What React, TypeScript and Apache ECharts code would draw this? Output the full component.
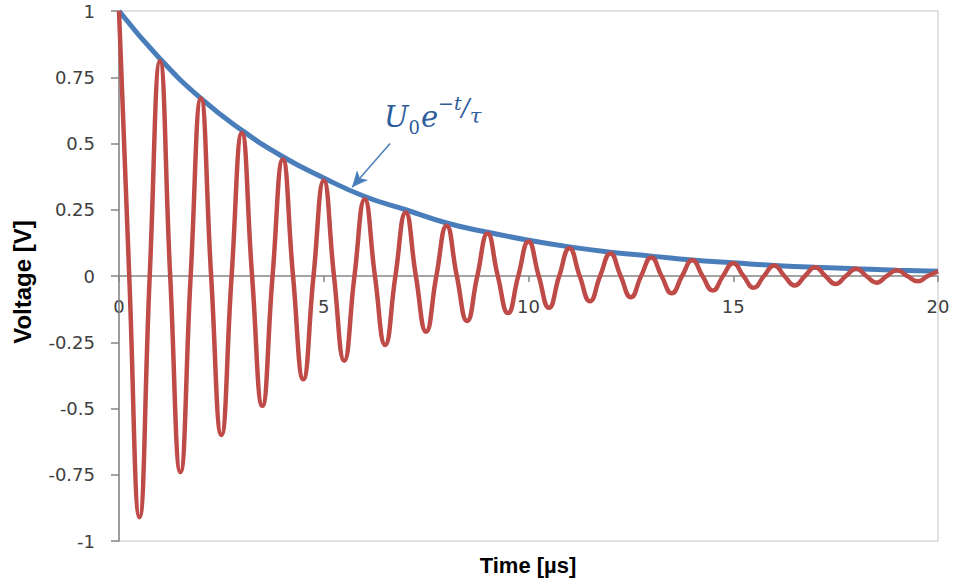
import React, { useEffect, useRef } from "react";
import * as echarts from "echarts";

// Time axis (µs) for the oscillating signal: peaks, troughs and zero crossings
const redTime = [
  0, 0.25, 0.5, 0.75, 1, 1.25, 1.5, 1.75, 2, 2.25, 2.5, 2.75, 3, 3.25, 3.5, 3.75,
  4, 4.25, 4.5, 4.75, 5, 5.25, 5.5, 5.75, 6, 6.25, 6.5, 6.75, 7, 7.25, 7.5, 7.75,
  8, 8.25, 8.5, 8.75, 9, 9.25, 9.5, 9.75, 10, 10.25, 10.5, 10.75, 11, 11.25, 11.5, 11.75,
  12, 12.25, 12.5, 12.75, 13, 13.25, 13.5, 13.75, 14, 14.25, 14.5, 14.75, 15, 15.25, 15.5, 15.75,
  16, 16.25, 16.5, 16.75, 17, 17.25, 17.5, 17.75, 18, 18.25, 18.5, 18.75, 19, 19.25, 19.5, 19.75, 20,
];
const redVoltage = [
  1, 0, -0.91, 0, 0.81, 0, -0.74, 0, 0.67, 0, -0.6, 0, 0.54, 0, -0.49, 0,
  0.44, 0, -0.39, 0, 0.36, 0, -0.32, 0, 0.29, 0, -0.26, 0, 0.24, 0, -0.21, 0,
  0.19, 0, -0.17, 0, 0.16, 0, -0.14, 0, 0.13, 0, -0.12, 0, 0.105, 0, -0.095, 0,
  0.085, 0, -0.08, 0, 0.07, 0, -0.065, 0, 0.06, 0, -0.055, 0, 0.048, 0, -0.044, 0,
  0.04, 0, -0.036, 0, 0.033, 0, -0.03, 0, 0.027, 0, -0.025, 0, 0.022, 0, -0.02, 0, 0.018,
];

// Envelope U0 e^{-t/τ}
const blueTime = [0, 1, 2, 3, 4, 5, 6, 7, 8, 9, 10, 11, 12, 13, 14, 15, 16, 17, 18, 19, 20];
const blueVoltage = [
  1, 0.82, 0.67, 0.55, 0.45, 0.37, 0.3, 0.25, 0.2, 0.165, 0.135, 0.11, 0.09, 0.075, 0.06,
  0.05, 0.04, 0.033, 0.027, 0.022, 0.018,
];

const xTicks = [0, 5, 10, 15, 20];
const yTicks = [-1, -0.75, -0.5, -0.25, 0, 0.25, 0.5, 0.75, 1];

// annotation arrow (data coordinates: start, tip)
const arrowStart = [6.62, 0.5];
const arrowEnd = [5.69, 0.335];

const BLUE = "#4A7EBB";
const RED = "#BE4B48";
const TEXT_BLUE = "#2E5D9C";
const LABEL_FONT = "18px 'DejaVu Sans', sans-serif";
const SERIF = "'DejaVu Serif', 'Liberation Serif', serif";

export default function App() {
  const ref = useRef<HTMLDivElement>(null);

  useEffect(() => {
    if (!ref.current) return;
    const chart = echarts.init(ref.current, null, { renderer: "svg" });
    const red = redTime.map((t, i) => [t, redVoltage[i]]);
    const blue = blueTime.map((t, i) => [t, blueVoltage[i]]);

    chart.setOption({
      animation: false,
      backgroundColor: "#ffffff",
      grid: {
        left: 119,
        right: 18,
        top: 11,
        bottom: 45,
        show: true,
        borderColor: "#d9d9d9",
        borderWidth: 1.5,
        containLabel: false,
      },
      xAxis: {
        type: "value",
        min: xTicks[0],
        max: xTicks[xTicks.length - 1],
        interval: 5,
        axisLine: { onZero: true, lineStyle: { color: "#868686", width: 1.5 } },
        axisTick: { show: true, length: 6, lineStyle: { color: "#868686", width: 1.5 } },
        axisLabel: { show: false },
        splitLine: { show: false },
      },
      yAxis: {
        type: "value",
        min: yTicks[0],
        max: yTicks[yTicks.length - 1],
        interval: 0.25,
        axisLine: { show: true, onZero: false, lineStyle: { color: "#868686", width: 1.5 } },
        axisTick: { show: true, length: 8, lineStyle: { color: "#868686", width: 1.5 } },
        axisLabel: {
          margin: 24,
          fontFamily: "'DejaVu Sans', sans-serif",
          fontSize: 18,
          color: "#404040",
        },
        splitLine: { show: false },
      },
      series: [
        {
          name: "envelope",
          type: "line",
          data: blue,
          smooth: 0.5,
          showSymbol: false,
          symbol: "none",
          lineStyle: { color: BLUE, width: 5 },
          z: 2,
          markLine: {
            silent: true,
            symbol: ["none", "arrow"],
            symbolSize: [11, 16],
            label: { show: false },
            lineStyle: { color: BLUE, width: 1.5, type: "solid" },
            data: [[{ coord: arrowStart }, { coord: arrowEnd }]],
          },
        },
        {
          name: "signal",
          type: "line",
          data: red,
          smooth: 0.5,
          showSymbol: false,
          symbol: "none",
          lineStyle: { color: RED, width: 4.5 },
          z: 3,
        },
      ],
    });

    // x tick labels sit just below the axis line drawn at V = 0
    const xLabels = xTicks.map((t) => {
      const p = chart.convertToPixel({ gridIndex: 0 }, [t, 0]) as number[];
      return {
        type: "text",
        x: p[0],
        y: p[1] + 21,
        style: {
          text: String(t),
          font: LABEL_FONT,
          fill: "#404040",
          textAlign: "center",
          textVerticalAlign: "top",
        },
      };
    });

    chart.setOption({
      graphic: [
        ...xLabels,
        {
          type: "text",
          x: 528,
          y: 565,
          style: {
            text: "Time [µs]",
            font: "bold 22px 'Liberation Sans', Arial, sans-serif",
            fill: "#000",
            textAlign: "center",
            textVerticalAlign: "middle",
          },
        },
        {
          type: "text",
          x: 22,
          y: 282,
          rotation: Math.PI / 2,
          style: {
            text: "Voltage [V]",
            font: "bold 24px 'Liberation Sans', Arial, sans-serif",
            fill: "#000",
            textAlign: "center",
            textVerticalAlign: "middle",
          },
        },
        {
          type: "text",
          x: 384,
          y: 92,
          style: {
            text: "{U|U}{s|0}{e|e}{p|−t}{sl|/}{tau|τ}",
            textVerticalAlign: "top",
            fill: TEXT_BLUE,
            lineHeight: 44,
            rich: {
              U: { fontFamily: SERIF, fontStyle: "italic", fontSize: 29, fill: TEXT_BLUE, verticalAlign: "bottom", padding: [0, 0, 5, 0] },
              s: { fontFamily: SERIF, fontSize: 18, fill: TEXT_BLUE, verticalAlign: "bottom", padding: [0, 1, 0, 0] },
              e: { fontFamily: SERIF, fontStyle: "italic", fontSize: 29, fill: TEXT_BLUE, verticalAlign: "bottom", padding: [0, 0, 5, 0] },
              p: { fontFamily: SERIF, fontStyle: "italic", fontSize: 19, fill: TEXT_BLUE, verticalAlign: "top", padding: [1, 0, 0, 0] },
              sl: { fontFamily: SERIF, fontStyle: "italic", fontSize: 24, fill: TEXT_BLUE, verticalAlign: "top", padding: [4, 0, 0, 0] },
              tau: { fontFamily: SERIF, fontStyle: "italic", fontSize: 21, fill: TEXT_BLUE, verticalAlign: "bottom", padding: [0, 0, 10, 0] },
            },
          },
        },
      ],
    });
    return () => chart.dispose();
  }, []);

  return (
    <div
      ref={ref}
      style={{ position: "absolute", left: 0, top: 0, width: 956, height: 586 }}
    />
  );
}
